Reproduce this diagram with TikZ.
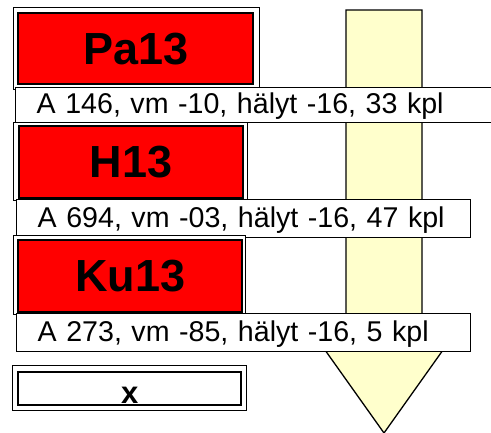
\documentclass[tikz,border=0pt]{standalone}
\usepackage{fontspec}
\setmainfont{Liberation Sans}
\definecolor{arrowfill}{HTML}{FFFFCC}
\begin{document}
\begin{tikzpicture}[x=1pt,y=-1pt,
  outerbox/.style={draw=black,fill=white,line width=1.4pt,anchor=north west,inner sep=0pt},
  redbox/.style={draw=black,fill=red,line width=2.4pt,anchor=north west,inner sep=0pt,
    font=\fontsize{45}{45}\selectfont\bfseries},
  infobox/.style={draw=black,fill=white,line width=1.4pt,anchor=north west,inner ysep=0pt,
    inner xsep=21pt,align=left,text height=21pt,text depth=4pt,
    font=\fontsize{28.6}{29}\selectfont},
  arrowshape/.style={draw=black,fill=arrowfill,line width=1.3pt,line join=miter}
]
\useasboundingbox (0,0) rectangle (491,432);
\clip (0,0) rectangle (491,432);
% big downward arrow
\draw[arrowshape] (346,10) -- (422,10) -- (422,350) -- (443,350) -- (384,433)
  -- (325,350) -- (346,350) -- cycle;
% Pa13
\node[outerbox,minimum width=246pt,minimum height=82pt] (o1) at (13,7) {};
\node[redbox,minimum width=235pt,minimum height=71pt] (r1) at (17,12) {Pa13};
\node[infobox,text width=438pt,minimum height=35pt] (t1) at (15,87) {\mbox{A 146, vm -10, hälyt -16, 33 kpl}};
% H13
\node[outerbox,minimum width=234pt,minimum height=78pt] (o2) at (13,122) {};
\node[redbox,minimum width=224pt,minimum height=72pt] (r2) at (18,125) {H13};
\node[infobox,text width=412pt,minimum height=38pt] (t2) at (16,199) {\mbox{A 694, vm -03, hälyt -16, 47 kpl}};
% Ku13
\node[outerbox,minimum width=232pt,minimum height=79pt] (o3) at (13,235) {};
\node[redbox,minimum width=224pt,minimum height=72pt] (r3) at (17,239) {Ku13};
\node[infobox,text width=412pt,minimum height=38pt] (t3) at (16,313) {\mbox{A 273, vm -85, hälyt -16, 5 kpl}};
% x box
\node[outerbox,minimum width=234pt,minimum height=45pt] (o4) at (12,365) {};
\node[outerbox,line width=2.4pt,minimum width=223pt,minimum height=33pt,
  text height=30pt,text depth=1pt,font=\fontsize{31}{31}\selectfont\bfseries] (x4) at (17,371) {x};
\end{tikzpicture}
\end{document}
